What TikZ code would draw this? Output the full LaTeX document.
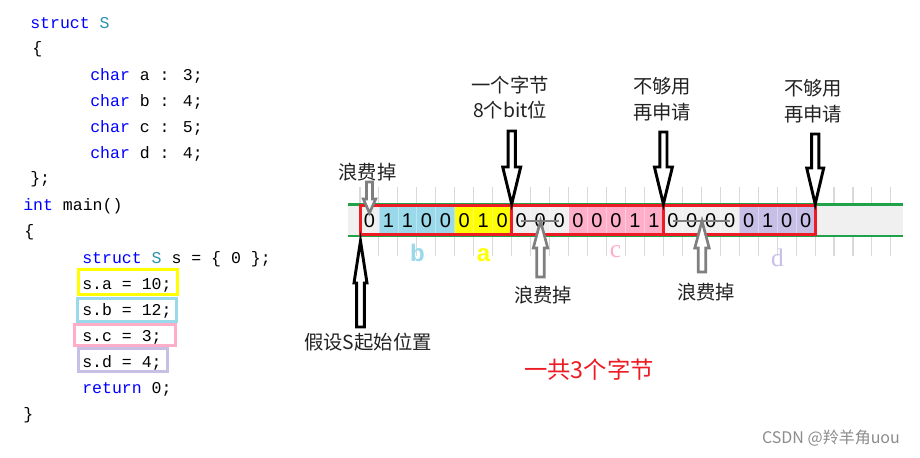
\documentclass[tikz,border=0pt]{standalone}
\usepackage{fontspec}
\newfontfamily\cjk{Noto Sans CJK SC}
\newfontfamily\codefont{Liberation Mono}
\newfontfamily\sansf{Liberation Sans}
\newfontfamily\seriff{Liberation Serif}
\definecolor{kw}{HTML}{0000FF}
\definecolor{ty}{HTML}{2B91AF}
\definecolor{cyel}{HTML}{FFFF00}
\definecolor{cblue}{HTML}{99D9EA}
\definecolor{cpink}{HTML}{FFAEC9}
\definecolor{cpurp}{HTML}{C8BFE7}
\definecolor{cred}{HTML}{ED1C24}
\definecolor{cgreen}{HTML}{1FA24A}
\definecolor{cgrid}{HTML}{D9D9D9}
\definecolor{cstrip}{HTML}{F0F0F0}
\definecolor{cgray}{HTML}{7F7F7F}
\definecolor{ctxt}{HTML}{222222}
\newcommand{\blkarrow}[7]{%
  \draw[#7] ({#1-#5},#3) -- ({#1+#5},#3) -- ({#1+#5},#4) -- ({#1+#6},#4)
    -- (#1,#2) -- ({#1-#6},#4) -- ({#1-#5},#4) -- cycle;}
\tikzset{
  code/.style={anchor=base west, inner sep=0pt, font=\codefont\fontsize{12.4pt}{14pt}\selectfont},
  lbl/.style={inner sep=0pt, text=ctxt, font=\cjk\fontsize{14.5pt}{17pt}\selectfont},
  digit/.style={inner sep=0pt, font=\sansf\fontsize{15pt}{17pt}\selectfont},
  gridline/.style={draw=cgrid, line width=0.8pt},
  redbox/.style={draw=cred, line width=2.25pt},
  blackarr/.style={draw=black, line width=2.2pt, fill=white, line join=miter},
  grayarr/.style={draw=cgray, line width=2pt, fill=white, line join=miter},
  codebox/.style={line width=2.25pt},
}
\begin{document}
\begin{tikzpicture}[x=0.75pt,y=-0.75pt]
\useasboundingbox (0,0) rectangle (920,457);
\fill[white] (0,0) rectangle (920,457);
\def\bw{18.96}
% ---------------- code ----------------
\node[code] (l1) at (30,28) {\textcolor{kw}{struct} \textcolor{ty}{S}};
\node[code] (l2) at (32,53) {\{};
\node[code] (l3) at (90,80) {\textcolor{kw}{char} a : 3;};
\node[code] (l4) at (90,106) {\textcolor{kw}{char} b : 4;};
\node[code] (l5) at (90,132) {\textcolor{kw}{char} c : 5;};
\node[code] (l6) at (90,158) {\textcolor{kw}{char} d : 4;};
\node[code] (l7) at (30,183) {\};};
\node[code] (l8) at (23,210.5) {\textcolor{kw}{int} main()};
\node[code] (l9) at (24,236.5) {\{};
\node[code] (l10) at (82,263) {\textcolor{kw}{struct} \textcolor{ty}{S} s = \{ 0 \};};
\node[code] (l11) at (82,289) {s.a = 10;};
\node[code] (l12) at (82,315) {s.b = 12;};
\node[code] (l13) at (82,341) {s.c = 3;};
\node[code] (l14) at (82,367) {s.d = 4;};
\node[code] (l15) at (82,393) {\textcolor{kw}{return} 0;};
\node[code] (l16) at (23,419) {\}};
\draw[codebox, draw=cyel] (78.5,269.5) rectangle (177.5,294.5);
\draw[codebox, draw=cblue] (77.5,298.5) rectangle (176.5,321.5);
\draw[codebox, draw=cpink] (74.5,324.5) rectangle (175.5,345.5);
\draw[codebox, draw=cpurp] (78.5,348.5) rectangle (167.5,371.5);
% ---------------- strip ----------------
\foreach \k in {0,...,28} \draw[gridline] ({360+\k*\bw},187) -- ({360+\k*\bw},256);
\fill[cstrip] (348,205) rectangle (903,235);
\draw[cgreen, line width=1.6pt] (348,204.5) -- (903,204.5);
\draw[cgreen, line width=1.6pt] (348,235.8) -- (903,235.8);
% cell fills
\foreach \k/\c in {0/cstrip,1/cblue,2/cblue,3/cblue,4/cblue,5/cyel,6/cyel,7/cyel,
  8/cstrip,9/cstrip,10/cstrip,11/cpink,12/cpink,13/cpink,14/cpink,15/cpink,
  16/cstrip,17/cstrip,18/cstrip,19/cstrip,20/cpurp,21/cpurp,22/cpurp,23/cpurp}
  \fill[\c] ({360+\k*\bw},205) rectangle ({360+(\k+1)*\bw},235);
\foreach \k in {1,...,23} \draw[white, opacity=0.35, line width=0.6pt] ({360+\k*\bw},205) -- ({360+\k*\bw},235);
% digits
\foreach \k/\d in {0/0,1/1,2/1,3/0,4/0,5/0,6/1,7/0,8/0,9/0,10/0,11/0,12/0,13/0,14/1,15/1,
  16/0,17/0,18/0,19/0,20/0,21/1,22/0,23/0}
  \node[digit] (d\k) at ({360+(\k+0.5)*\bw},221) {\d};
% strike lines
\draw[cgray, line width=1.6pt] (d8.center) -- (d10.center);
\draw[cgray, line width=1.6pt] (d16.center) -- (d19.center);
% red byte boxes
\draw[redbox] (360.8,205.8) rectangle (511.7,234.3);
\draw[redbox] (511.7,205.8) rectangle (663.4,234.3);
\draw[redbox] (663.4,205.8) rectangle (815.2,234.3);
% ---------------- arrows ----------------
\blkarrow{511.7}{204}{131}{167}{3.6}{9}{blackarr}
\blkarrow{663.4}{204}{132}{167}{3.6}{9}{blackarr}
\blkarrow{815.2}{204}{134}{168}{3.6}{8.5}{blackarr}
\blkarrow{360.5}{241}{327}{283}{3.8}{6.5}{blackarr}
\blkarrow{369.5}{213}{182}{199}{3}{6.2}{grayarr}
\blkarrow{540.5}{221}{277}{248}{3.8}{7.2}{grayarr}
\blkarrow{702}{221}{272}{248}{3.8}{7.2}{grayarr}
% ---------------- labels ----------------
\node[inner sep=0pt, anchor=base, text=cblue, font=\sansf\bfseries\fontsize{18pt}{20pt}\selectfont] (lb) at (417.5,261) {b};
\node[inner sep=0pt, anchor=base, text=cyel, font=\sansf\bfseries\fontsize{18pt}{20pt}\selectfont] (la) at (483.5,261) {a};
\node[inner sep=0pt, anchor=base, text=cpink, font=\seriff\fontsize{19pt}{21pt}\selectfont] (lc) at (615.5,257) {c};
\node[inner sep=0pt, anchor=base, text=cpurp, font=\seriff\fontsize{19pt}{21pt}\selectfont] (ld) at (777.5,266) {d};
\node[lbl] (t1) at (510,85) {一个字节};
\node[lbl] (t2) at (510,110) {8个bit位};
\node[lbl] (t3) at (662,86) {不够用};
\node[lbl] (t4) at (662,112) {再申请};
\node[lbl] (t5) at (813,88) {不够用};
\node[lbl] (t6) at (813,114) {再申请};
\node[lbl] (w1) at (367.5,172) {浪费掉};
\node[lbl] (w2) at (543,295) {浪费掉};
\node[lbl] (w3) at (706,292) {浪费掉};
\node[lbl] (st) at (368,342) {假设S起始位置};
\node[inner sep=0pt, text=cred, font=\cjk\fontsize{17.5pt}{20pt}\selectfont] (tot) at (589,370) {一共3个字节};
\node[inner sep=0pt, text=black!45, font=\cjk\fontsize{12pt}{14pt}\selectfont] (wm) at (831,438) {CSDN @羚羊角uou};
\end{tikzpicture}
\end{document}
